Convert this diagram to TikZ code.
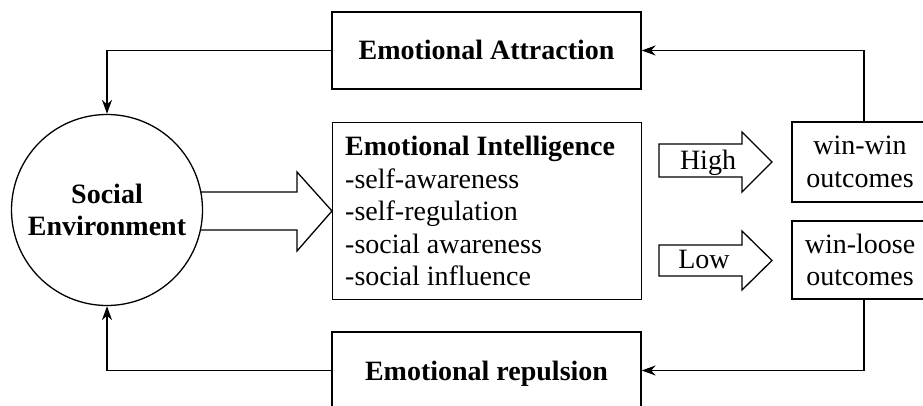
\documentclass[tikz,border=0pt]{standalone}
\usepackage{fontspec}
\setmainfont{Liberation Serif}
\usetikzlibrary{arrows.meta}
\begin{document}
\begin{tikzpicture}[x=1pt,y=-1pt,
  conn/.style={-{Stealth[length=14pt,width=10pt,inset=4.5pt]}, line width=1.3pt},
  box/.style={draw, line width=1.3pt, inner sep=0pt},
  txt/.style={font=\fontsize{28}{32.5}\selectfont},
  btxt/.style={font=\fontsize{28}{32.5}\selectfont\bfseries},
  one/.style={text height=19pt, text depth=0pt},
  blockarrow/.style={draw, line width=1.3pt, fill=white, line join=miter}]
\useasboundingbox (0,0) rectangle (923,406);
\clip (0,0) rectangle (923,406);

% big block arrow from the circle to the EI box
\path[blockarrow] (150,192) -- (297,192) -- (297,172) -- (332,211) -- (297,251) -- (297,230) -- (150,230) -- cycle;

\node[circle, draw, line width=1.3pt, fill=white, minimum size=191pt, inner sep=0pt, align=center, btxt] (env) at (107,210) {Social\\Environment};

\node[box, minimum width=309pt, minimum height=77pt, one, btxt] (attr) at (486.5,50.5) {Emotional Attraction};
\node[box, minimum width=309pt, minimum height=77pt, one, btxt] (rep) at (486.5,370.5) {Emotional repulsion};

\node[box, minimum width=309pt, minimum height=177pt, anchor=north west] (ei) at (332,122) {};
\node[anchor=north west, inner sep=0pt, align=left, txt] (eitxt) at (345,136)
  {\textbf{Emotional Intelligence}\\-self-awareness\\-self-regulation\\-social awareness\\-social influence};

\node[box, minimum width=136pt, minimum height=80pt, align=center, txt] (ww) at (860,162) {win-win\\outcomes};
\node[box, minimum width=136pt, minimum height=78pt, align=center, txt] (wl) at (860,260) {win-loose\\outcomes};

% High / Low block arrows
\path[blockarrow] (659,144) -- (742,144) -- (742,132) -- (772,162) -- (742,192) -- (742,177) -- (659,177) -- cycle;
\node[inner sep=0pt, one, txt] (high) at (708,160.5) {High};
\path[blockarrow] (659,245) -- (742,245) -- (742,231) -- (772,260.5) -- (742,290) -- (742,276) -- (659,276) -- cycle;
\node[inner sep=0pt, one, txt] (low) at (704,258.5) {Low};

% feedback connectors
\draw[conn] (attr.west) -| (env.north);
\draw[conn] ([xshift=4pt]ww.north) |- (attr.east);
\draw[conn] ([xshift=4pt]wl.south) |- (rep.east);
\draw[conn] (rep.west) -| (env.south);
\end{tikzpicture}
\end{document}
